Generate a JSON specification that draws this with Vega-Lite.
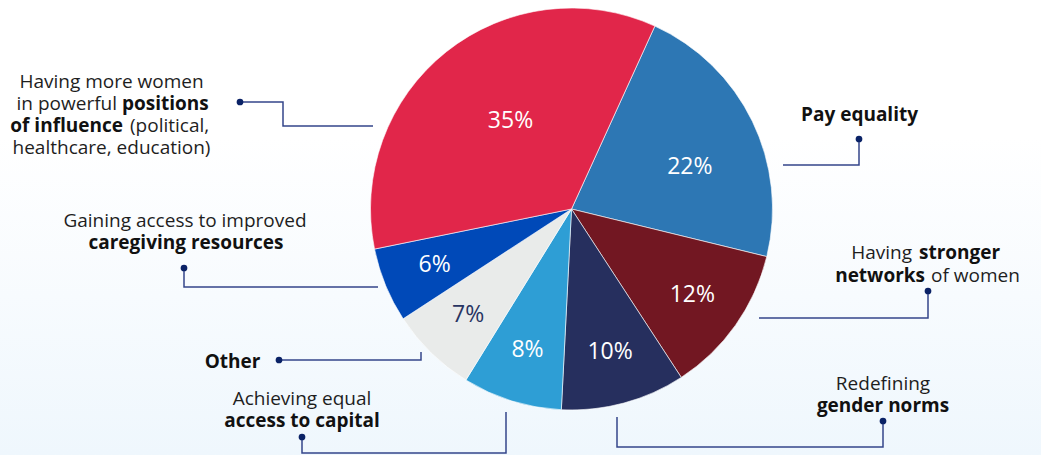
{
  "$schema": "https://vega.github.io/schema/vega-lite/v6.json",
  "width": 1041,
  "height": 455,
  "padding": 0,
  "autosize": {"type": "none"},
  "background": "#ffffff",
  "config": {"view": {"stroke": null}, "font": "Open Sans"},
  "datasets": {
    "slices": [
      {"cat": "Pay equality", "pct": 22, "label": "22%", "order": 1},
      {"cat": "Having stronger networks of women", "pct": 12, "label": "12%", "order": 2},
      {"cat": "Redefining gender norms", "pct": 10, "label": "10%", "order": 3},
      {"cat": "Achieving equal access to capital", "pct": 8, "label": "8%", "order": 4},
      {"cat": "Other", "pct": 7, "label": "7%", "order": 5},
      {"cat": "Gaining access to improved caregiving resources", "pct": 6, "label": "6%", "order": 6},
      {"cat": "Having more women in powerful positions of influence", "pct": 35, "label": "35%", "order": 7}
    ],
    "notes": [
      {"t": "Having more women", "x": 111.5, "y": 88, "w": "regular", "p": "whole"},
      {"t": "in powerful", "x": 117, "y": 110, "w": "regular", "p": "before"},
      {"t": "positions", "x": 122, "y": 110, "w": "bold", "p": "after"},
      {"t": "of influence", "x": 123, "y": 132, "w": "bold", "p": "before"},
      {"t": "(political,", "x": 130, "y": 132, "w": "regular", "p": "after"},
      {"t": "healthcare, education)", "x": 111.5, "y": 154, "w": "regular", "p": "whole"},
      {"t": "Pay equality", "x": 859.5, "y": 121, "w": "bold", "p": "whole"},
      {"t": "Having", "x": 912, "y": 259, "w": "regular", "p": "before"},
      {"t": "stronger", "x": 919, "y": 259, "w": "bold", "p": "after"},
      {"t": "networks", "x": 925, "y": 282, "w": "bold", "p": "before"},
      {"t": "of women", "x": 931, "y": 282, "w": "regular", "p": "after"},
      {"t": "Gaining access to improved", "x": 185, "y": 227, "w": "regular", "p": "whole"},
      {"t": "caregiving resources", "x": 186, "y": 249, "w": "bold", "p": "whole"},
      {"t": "Other", "x": 232.5, "y": 368, "w": "bold", "p": "whole"},
      {"t": "Achieving equal", "x": 302, "y": 405, "w": "regular", "p": "whole"},
      {"t": "access to capital", "x": 302, "y": 427, "w": "bold", "p": "whole"},
      {"t": "Redefining", "x": 883, "y": 390, "w": "regular", "p": "whole"},
      {"t": "gender norms", "x": 883, "y": 412, "w": "bold", "p": "whole"}
    ],
    "leaders": [
      {"id": "positions", "s": 1, "x": 240, "y": 102},
      {"id": "positions", "s": 2, "x": 283, "y": 102},
      {"id": "positions", "s": 3, "x": 283, "y": 126},
      {"id": "positions", "s": 4, "x": 373, "y": 126},
      {"id": "pay", "s": 1, "x": 859, "y": 139},
      {"id": "pay", "s": 2, "x": 859, "y": 165},
      {"id": "pay", "s": 3, "x": 783, "y": 165},
      {"id": "networks", "s": 1, "x": 928, "y": 291},
      {"id": "networks", "s": 2, "x": 928, "y": 318},
      {"id": "networks", "s": 3, "x": 759, "y": 318},
      {"id": "caregiving", "s": 1, "x": 184, "y": 268},
      {"id": "caregiving", "s": 2, "x": 184, "y": 287},
      {"id": "caregiving", "s": 3, "x": 378, "y": 287},
      {"id": "other", "s": 1, "x": 279, "y": 360},
      {"id": "other", "s": 2, "x": 421, "y": 360},
      {"id": "other", "s": 3, "x": 421, "y": 352},
      {"id": "capital", "s": 1, "x": 302, "y": 437},
      {"id": "capital", "s": 2, "x": 302, "y": 453},
      {"id": "capital", "s": 3, "x": 506, "y": 453},
      {"id": "capital", "s": 4, "x": 506, "y": 412},
      {"id": "gender", "s": 1, "x": 883, "y": 421},
      {"id": "gender", "s": 2, "x": 883, "y": 447},
      {"id": "gender", "s": 3, "x": 617, "y": 447},
      {"id": "gender", "s": 4, "x": 617, "y": 417}
    ]
  },
  "layer": [
    {
      "data": {"values": [{"bg": 1}]},
      "mark": {
        "type": "rect",
        "fill": {
          "gradient": "linear", "x1": 0, "y1": 0, "x2": 0, "y2": 1,
          "stops": [
            {"offset": 0, "color": "#ffffff"},
            {"offset": 0.3, "color": "#ffffff"},
            {"offset": 1, "color": "#EFF7FD"}
          ]
        }
      },
      "encoding": {
        "x": {"datum": 0, "type": "quantitative", "scale": {"domain": [0, 1041], "nice": false, "zero": false}, "axis": null},
        "x2": {"datum": 1041},
        "y": {"datum": 0, "type": "quantitative", "scale": {"domain": [0, 455], "reverse": true, "nice": false, "zero": false}, "axis": null},
        "y2": {"datum": 455}
      }
    },
    {
      "data": {"name": "slices"},
      "mark": {"type": "arc", "outerRadius": 201, "stroke": "#ffffff", "strokeWidth": 0.6},
      "encoding": {
        "x": {"datum": 571.5, "type": "quantitative"},
        "y": {"datum": 209, "type": "quantitative"},
        "theta": {"field": "pct", "type": "quantitative", "stack": true, "scale": {"range": [0.4276, 6.7108]}},
        "order": {"field": "order", "type": "quantitative"},
        "color": {
          "field": "cat", "type": "nominal", "legend": null,
          "scale": {
            "domain": ["Pay equality", "Having stronger networks of women", "Redefining gender norms", "Achieving equal access to capital", "Other", "Gaining access to improved caregiving resources", "Having more women in powerful positions of influence"],
            "range": ["#2D77B4", "#721722", "#262F5E", "#2E9ED5", "#E9EBEA", "#0049B8", "#E1264A"]
          }
        }
      }
    },
    {
      "data": {"name": "slices"},
      "mark": {"type": "text", "radius": 148, "fontSize": 23, "baseline": "middle", "align": "center"},
      "encoding": {
        "x": {"datum": 571.5, "type": "quantitative"},
        "y": {"datum": 209, "type": "quantitative"},
        "theta": {"field": "pct", "type": "quantitative", "stack": true},
        "order": {"field": "order", "type": "quantitative"},
        "text": {"condition": {"test": "datum.pct < 20", "field": "label"}, "value": ""},
        "color": {"condition": {"test": "datum.pct === 7", "value": "#283462"}, "value": "#ffffff"}
      }
    },
    {
      "data": {"name": "slices"},
      "mark": {"type": "text", "radius": 106, "fontSize": 23, "baseline": "middle", "align": "center", "dx": 5, "dy": -5, "color": "#ffffff"},
      "encoding": {
        "x": {"datum": 571.5, "type": "quantitative"},
        "y": {"datum": 209, "type": "quantitative"},
        "theta": {"field": "pct", "type": "quantitative", "stack": true},
        "order": {"field": "order", "type": "quantitative"},
        "text": {"condition": {"test": "datum.pct === 35", "field": "label"}, "value": ""}
      }
    },
    {
      "data": {"name": "slices"},
      "mark": {"type": "text", "radius": 126, "fontSize": 23, "baseline": "middle", "align": "center", "dx": 5, "dy": 13, "color": "#ffffff"},
      "encoding": {
        "x": {"datum": 571.5, "type": "quantitative"},
        "y": {"datum": 209, "type": "quantitative"},
        "theta": {"field": "pct", "type": "quantitative", "stack": true},
        "order": {"field": "order", "type": "quantitative"},
        "text": {"condition": {"test": "datum.pct === 22", "field": "label"}, "value": ""}
      }
    },
    {
      "data": {"name": "leaders"},
      "mark": {"type": "line", "color": "#34468A", "strokeWidth": 1.5, "interpolate": "linear"},
      "encoding": {
        "x": {"field": "x", "type": "quantitative"},
        "y": {"field": "y", "type": "quantitative"},
        "detail": {"field": "id"},
        "order": {"field": "s", "type": "quantitative"}
      }
    },
    {
      "data": {"name": "leaders"},
      "transform": [{"filter": "datum.s === 1"}],
      "mark": {"type": "circle", "color": "#0A2266", "opacity": 1, "size": 45},
      "encoding": {
        "x": {"field": "x", "type": "quantitative"},
        "y": {"field": "y", "type": "quantitative"}
      }
    },
    {
      "data": {"name": "notes"},
      "transform": [{"filter": "datum.w === 'regular' && datum.p === 'whole'"}],
      "mark": {"type": "text", "fontSize": 19, "align": "center", "baseline": "alphabetic", "color": "#1E1E1E"},
      "encoding": {"x": {"field": "x", "type": "quantitative"}, "y": {"field": "y", "type": "quantitative"}, "text": {"field": "t"}}
    },
    {
      "data": {"name": "notes"},
      "transform": [{"filter": "datum.w === 'bold' && datum.p === 'whole'"}],
      "mark": {"type": "text", "fontSize": 19, "fontWeight": "bold", "align": "center", "baseline": "alphabetic", "color": "#111111"},
      "encoding": {"x": {"field": "x", "type": "quantitative"}, "y": {"field": "y", "type": "quantitative"}, "text": {"field": "t"}}
    },
    {
      "data": {"name": "notes"},
      "transform": [{"filter": "datum.w === 'regular' && datum.p === 'before'"}],
      "mark": {"type": "text", "fontSize": 19, "align": "right", "baseline": "alphabetic", "color": "#1E1E1E"},
      "encoding": {"x": {"field": "x", "type": "quantitative"}, "y": {"field": "y", "type": "quantitative"}, "text": {"field": "t"}}
    },
    {
      "data": {"name": "notes"},
      "transform": [{"filter": "datum.w === 'bold' && datum.p === 'before'"}],
      "mark": {"type": "text", "fontSize": 19, "fontWeight": "bold", "align": "right", "baseline": "alphabetic", "color": "#111111"},
      "encoding": {"x": {"field": "x", "type": "quantitative"}, "y": {"field": "y", "type": "quantitative"}, "text": {"field": "t"}}
    },
    {
      "data": {"name": "notes"},
      "transform": [{"filter": "datum.w === 'regular' && datum.p === 'after'"}],
      "mark": {"type": "text", "fontSize": 19, "align": "left", "baseline": "alphabetic", "color": "#1E1E1E"},
      "encoding": {"x": {"field": "x", "type": "quantitative"}, "y": {"field": "y", "type": "quantitative"}, "text": {"field": "t"}}
    },
    {
      "data": {"name": "notes"},
      "transform": [{"filter": "datum.w === 'bold' && datum.p === 'after'"}],
      "mark": {"type": "text", "fontSize": 19, "fontWeight": "bold", "align": "left", "baseline": "alphabetic", "color": "#111111"},
      "encoding": {"x": {"field": "x", "type": "quantitative"}, "y": {"field": "y", "type": "quantitative"}, "text": {"field": "t"}}
    }
  ]
}
